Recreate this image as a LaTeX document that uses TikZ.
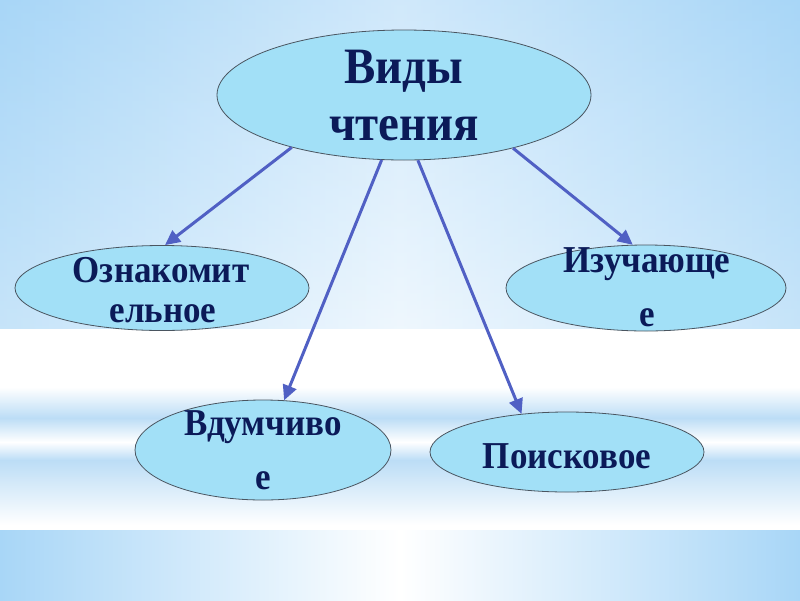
\documentclass[tikz,border=0pt]{standalone}
\usepackage{fontspec}
\setmainfont{Liberation Serif}
\newfontfamily\narrowserif[FakeStretch=0.92]{Liberation Serif}
\usetikzlibrary{arrows.meta,shapes.geometric}
\definecolor{ellfill}{HTML}{A2E0F7}
\definecolor{ellline}{HTML}{4A5560}
\definecolor{txt}{HTML}{0B1A58}
\definecolor{arr}{HTML}{5060C4}
\definecolor{bgA}{HTML}{A8D6F7}
\definecolor{bgB}{HTML}{E6F3FD}
\definecolor{bgC}{HTML}{BCDDF6}
\begin{document}
\begin{tikzpicture}[x=1pt,y=-1pt,
 oval/.style={ellipse,draw=ellline,line width=0.8pt,fill=ellfill,inner sep=0pt},
 lbl/.style={anchor=base,text=txt,font=\narrowserif\bfseries\fontsize{38}{42}\selectfont,inner sep=0pt},
 big/.style={anchor=base,text=txt,font=\narrowserif\bfseries\fontsize{51}{55}\selectfont,inner sep=0pt},
 link/.style={draw=arr,line width=3pt,-{Triangle[length=15pt,width=14pt]}}]
\useasboundingbox (0,0) rectangle (800,600);
% background
\shade[left color=bgA,right color=bgA,middle color=bgB] (0,0) rectangle (800,329);
\shade[top color=bgA,bottom color=white,opacity=0.35] (0,0) rectangle (800,329);
\fill[white] (0,329) rectangle (800,530);
\shade[top color=white,bottom color=bgC] (0,387) rectangle (800,418);
\shade[top color=bgC,bottom color=white] (0,418) rectangle (800,442);
\shade[top color=white,bottom color=bgC] (0,442) rectangle (800,460);
\shade[top color=bgC,bottom color=white] (0,460) rectangle (800,525);
\shade[left color=bgA,right color=bgA,middle color=white] (0,530) rectangle (800,600);
% ellipses
\node[oval,minimum width=374pt,minimum height=130pt] (top) at (404,95) {};
\node[oval,minimum width=294pt,minimum height=85pt] (oz) at (162,288) {};
\node[oval,minimum width=280pt,minimum height=86pt] (iz) at (646,288) {};
\node[oval,minimum width=256pt,minimum height=100pt] (vd) at (263,450) {};
\node[oval,minimum width=274pt,minimum height=80pt] (po) at (567,452) {};
% texts
\node[big] (t1) at (404,83) {Виды};
\node[big] (t2) at (404,140) {чтения};
\node[lbl] (t3) at (161,282) {Ознакомит};
\node[lbl] (t4) at (163,322) {ельное};
\node[lbl] (t5) at (647,272) {Изучающе};
\node[lbl] (t6) at (647,326) {е};
\node[lbl] (t7) at (263,435) {Вдумчиво};
\node[lbl] (t8) at (263,489) {е};
\node[lbl] (t9) at (567,468) {Поисковое};
% arrows
\draw[link] (top.-155) -- (oz.86);
\draw[link] (top.-109) -- (vd.67);
\draw[link] (top.-78) -- (po.140);
\draw[link] (top.-26) -- (iz.107);
\end{tikzpicture}
\end{document}
